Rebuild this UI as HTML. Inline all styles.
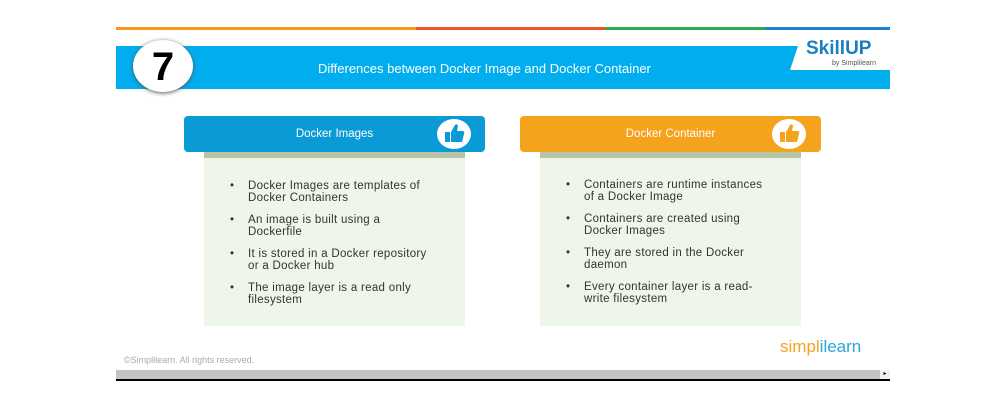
<!DOCTYPE html>
<html><head><style>
body{margin:0;width:1005px;height:404px;background:#fff;position:relative;overflow:hidden;font-family:"Liberation Sans",sans-serif}
.a{position:absolute}
ul{margin:0;padding:0 0 0 44px;list-style:none}
li{position:relative;font-size:11.5px;line-height:11.5px;color:#333;margin-bottom:11px;letter-spacing:0.3px;white-space:nowrap}
li:before{content:"•";position:absolute;left:-18px}
.hd{color:#fff;font-size:11.5px;text-align:center;line-height:36px;border-radius:4px}
.th{width:34px;height:30px;border-radius:50%;background:#fff;top:3px}
</style></head><body>
<div class="a" style="left:116px;top:27px;width:300px;height:3px;background:#f39c1f"></div>
<div class="a" style="left:416px;top:27px;width:189px;height:3px;background:#e8562a"></div>
<div class="a" style="left:605px;top:27px;width:160px;height:3px;background:#2fa84f"></div>
<div class="a" style="left:765px;top:27px;width:125px;height:3px;background:#1f7fd1"></div>
<div class="a" style="left:116px;top:46px;width:774px;height:43px;background:#00aeef"></div>
<div class="a" style="left:790px;top:46px;width:100px;height:24px;background:#fff;clip-path:polygon(8% 0,100% 0,100% 100%,0 100%)"></div>
<div class="a" style="left:806px;top:38px;font-size:19px;font-weight:bold;color:#1a7fc0">SkillUP</div>
<div class="a" style="left:832px;top:60px;font-size:7px;color:#555">by Simplilearn</div>
<div class="a" style="left:133px;top:40px;width:60px;height:52px;border-radius:50%;background:#fff;box-shadow:0 1px 4px #555;text-align:center;font-size:40px;font-weight:bold;line-height:54px">7</div>
<div class="a" style="left:318px;top:61px;color:#fff;font-size:13px">Differences between Docker Image and Docker Container</div>

<div class="a hd" style="left:184px;top:116px;width:301px;height:36px;background:#0a9bd6">Docker Images</div>
<div class="a th" style="left:437px;top:119px"><svg width="34" height="30" viewBox="0 0 34 30"><rect x="8" y="13" width="5" height="10" fill="#0a9bd6"/><path d="M14 13 L18 6 Q20 4 21 7 L20 12 L26 12 Q28 13 27 15 L25 23 L14 23 Z" fill="#0a9bd6"/></svg></div>
<div class="a" style="left:204px;top:152px;width:261px;height:174px;background:#eef5e9;border-top:6px solid #b8c4a8;box-sizing:border-box;padding-top:23px">
<ul><li>Docker Images are templates of<br>Docker Containers</li><li>An image is built using a<br>Dockerfile</li><li>It is stored in a Docker repository<br>or a Docker hub</li><li>The image layer is a read only<br>filesystem</li></ul></div>

<div class="a hd" style="left:520px;top:116px;width:301px;height:36px;background:#f5a21c">Docker Container</div>
<div class="a th" style="left:772px;top:119px"><svg width="34" height="30" viewBox="0 0 34 30"><rect x="8" y="13" width="5" height="10" fill="#f5a21c"/><path d="M14 13 L18 6 Q20 4 21 7 L20 12 L26 12 Q28 13 27 15 L25 23 L14 23 Z" fill="#f5a21c"/></svg></div>
<div class="a" style="left:540px;top:152px;width:261px;height:174px;background:#eef5e9;border-top:6px solid #b8c4a8;box-sizing:border-box;padding-top:22px">
<ul><li>Containers are runtime instances<br>of a Docker Image</li><li>Containers are created using<br>Docker Images</li><li>They are stored in the Docker<br>daemon</li><li>Every container layer is a read-<br>write filesystem</li></ul></div>

<div class="a" style="left:124px;top:355px;font-size:9px;color:#aaa">©Simplilearn. All rights reserved.</div>
<div class="a" style="left:780px;top:337px;font-size:17px"><span style="color:#f5a21c">simpl</span><span style="color:#2aa6d8">ilearn</span></div>
<div class="a" style="left:116px;top:370px;width:774px;height:9px;background:#c4c4c4"></div>
<div class="a" style="left:116px;top:379px;width:774px;height:2px;background:#000"></div>
<div class="a" style="left:880px;top:370px;width:10px;height:9px;background:#f0f0f0;font-size:6px;line-height:9px;text-align:center">▸</div>
</body></html>
